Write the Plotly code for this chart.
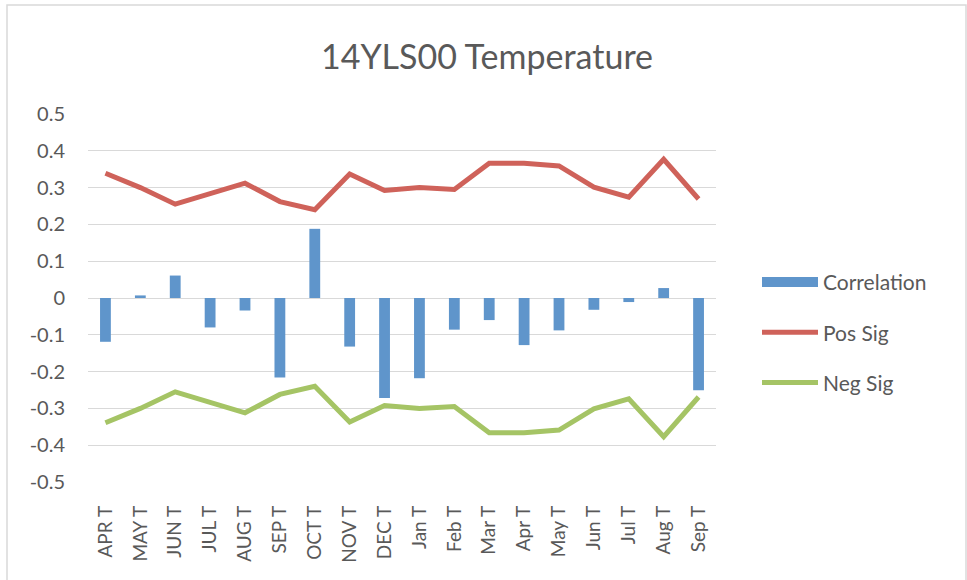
import plotly.graph_objects as go

categories = ["APR T", "MAY T", "JUN T", "JUL T", "AUG T", "SEP T", "OCT T", "NOV T", "DEC T",
              "Jan T", "Feb T", "Mar T", "Apr T", "May T", "Jun T", "Jul T", "Aug T", "Sep T"]
correlation = [-0.119, 0.007, 0.061, -0.080, -0.034, -0.216, 0.188, -0.132, -0.272,
               -0.218, -0.086, -0.060, -0.128, -0.088, -0.032, -0.011, 0.027, -0.251]
pos_sig = [0.339, 0.300, 0.255, 0.283, 0.312, 0.262, 0.240, 0.337, 0.292,
           0.300, 0.295, 0.366, 0.366, 0.359, 0.301, 0.274, 0.377, 0.269]
neg_sig = [-0.339, -0.300, -0.255, -0.283, -0.312, -0.262, -0.240, -0.337, -0.292,
           -0.300, -0.295, -0.366, -0.366, -0.359, -0.301, -0.274, -0.377, -0.269]
y_ticks = [0.5, 0.4, 0.3, 0.2, 0.1, 0, -0.1, -0.2, -0.3, -0.4, -0.5]

FONT = "Lato"
TXT = "#595959"
BLUE = "#5F95CB"
RED = "#CF625A"
GREEN = "#A5C465"

fig = go.Figure()
fig.add_trace(go.Bar(x=categories, y=correlation, name="Correlation",
                     marker=dict(color=BLUE, line=dict(width=0)),
                     width=0.31, showlegend=False, legendgroup="a"))
# legend entry for the bars (wide swatch like the original)
fig.add_trace(go.Scatter(x=[None], y=[None], name="Correlation", mode="lines",
                         line=dict(color=BLUE, width=13), legendgroup="a",
                         hoverinfo="skip"))
fig.add_trace(go.Scatter(x=categories, y=pos_sig, name="Pos Sig", mode="lines",
                         line=dict(color=RED, width=5), legendgroup="b"))
fig.add_trace(go.Scatter(x=categories, y=neg_sig, name="Neg Sig", mode="lines",
                         line=dict(color=GREEN, width=5), legendgroup="c"))

fig.update_layout(
    width=967, height=580,
    margin=dict(l=88, r=251, t=114, b=98),
    paper_bgcolor="white", plot_bgcolor="white",
    font=dict(family=FONT, color=TXT, size=18),
    title=dict(text="14YLS00 Temperature", x=487 / 967, xref="container", xanchor="center",
               y=1 - 57 / 580, yref="container", yanchor="middle",
               font=dict(family=FONT, size=34, color=TXT)),
    showlegend=True,
    legend=dict(x=1.0 + (757 - 716) / 628, xanchor="left", y=(482 - 281) / 368 + 0.052,
                yanchor="top", font=dict(family=FONT, size=21, color=TXT),
                traceorder="grouped", tracegroupgap=20, itemwidth=56,
                bgcolor="rgba(0,0,0,0)"),
    bargap=0.69,
    xaxis=dict(type="category", tickangle=-90, showgrid=False, showline=False,
               zeroline=False, ticks="", ticklabelstandoff=19,
               tickfont=dict(family=FONT, size=19, color=TXT)),
    yaxis=dict(range=[-0.5, 0.5], tickvals=y_ticks, ticktext=[str(v) for v in y_ticks],
               showgrid=True, gridcolor="#D9D9D9", gridwidth=1.2,
               zeroline=True, zerolinecolor="#D9D9D9", zerolinewidth=1.2,
               showline=False, ticks="", ticklabelstandoff=22,
               tickfont=dict(family=FONT, size=20, color=TXT)),
    shapes=[dict(type="rect", xref="paper", yref="paper",
                 x0=(7 - 88) / 628, x1=(966 - 88) / 628,
                 y0=(482 - 595) / 368, y1=(482 - 5) / 368,
                 line=dict(color="#D9D9D9", width=1.5), fillcolor="rgba(0,0,0,0)",
                 layer="below")],
)

fig.write_html("out.html", config={"displayModeBar": False},
               post_script="document.body.style.margin='0';")
